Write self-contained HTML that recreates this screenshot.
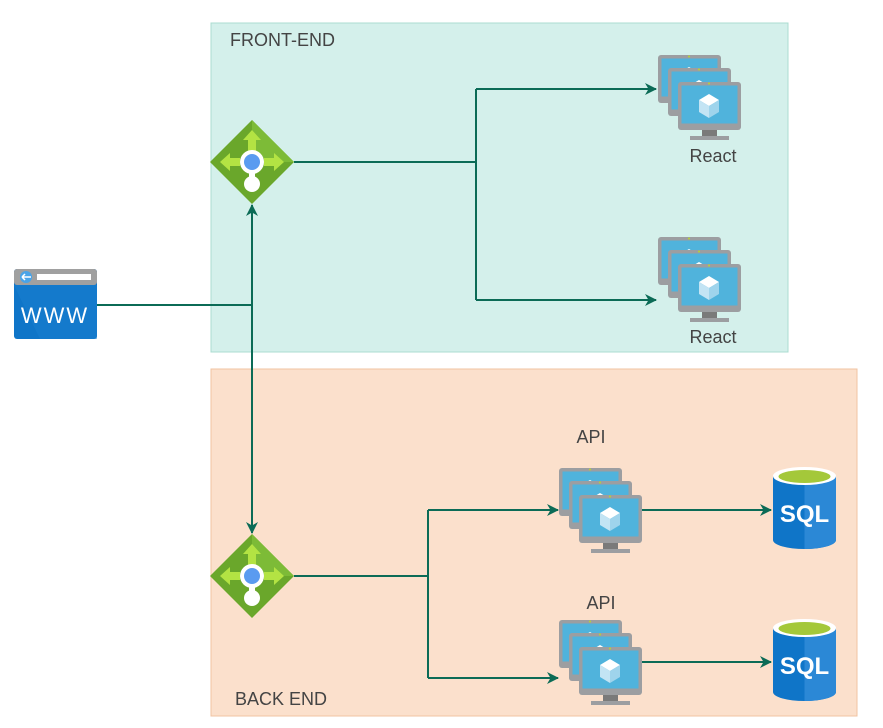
<!DOCTYPE html>
<html><head><style>body{margin:0;background:#fff}svg{display:block}text{font-family:"Liberation Sans",sans-serif;fill:#444}</style></head><body>
<svg width="883" height="728" viewBox="0 0 883 728" xmlns="http://www.w3.org/2000/svg">
<defs>
<symbol id="mon" overflow="visible">
<rect x="0" y="0" width="63" height="48" rx="3" fill="#9c9ea1"/>
<rect x="3.5" y="3.5" width="56" height="38" fill="#50b3dc"/>
<circle cx="31" cy="1.5" r="1" fill="#b8d432"/>
<path d="M31 12 L41 18 L31 24 L21 18Z" fill="#fff"/>
<path d="M21 18 L31 24 L31 36 L21 30Z" fill="#c3e4f4"/>
<path d="M41 18 L31 24 L31 36 L41 30Z" fill="#9fd4ec"/>
<rect x="24" y="48" width="15" height="6" fill="#7a7a7a"/>
<rect x="12" y="54" width="39" height="4" fill="#9c9ea1"/>
</symbol>
<symbol id="vms" overflow="visible">
<use href="#mon" x="0" y="0"/><use href="#mon" x="10" y="13"/><use href="#mon" x="20" y="27"/>
</symbol>
<symbol id="lb" overflow="visible">
<path d="M0 -42 L42 0 L0 42 L-42 0Z" fill="#6aa72b"/>
<path d="M0 -42 L42 0 L0 0Z" fill="#7dbb37"/>
<path d="M0 -32 L9 -22 L4 -22 L4 -10 L-4 -10 L-4 -22 L-9 -22Z" fill="#b3e343"/>
<path d="M-32 0 L-22 -9 L-22 -4 L-12 -4 L-12 4 L-22 4 L-22 9Z" fill="#b3e343"/>
<path d="M32 0 L22 -9 L22 -4 L12 -4 L12 4 L22 4 L22 9Z" fill="#b3e343"/>
<rect x="-3" y="0" width="6" height="20" fill="#fff"/>
<circle cx="0" cy="22" r="8" fill="#fff"/>
<circle cx="0" cy="0" r="12" fill="#fff"/>
<circle cx="0" cy="0" r="8" fill="#5a9bf0"/>
</symbol>
<symbol id="sql" overflow="visible">
<path d="M0 8 L0 72 A31.5 9 0 0 0 63 72 L63 8Z" fill="#0f75c8"/>
<path d="M31.5 17 L31.5 81 A31.5 9 0 0 0 63 72 L63 8Z" fill="#2b88d6"/>
<ellipse cx="31.5" cy="8" rx="31.5" ry="9" fill="#fff"/>
<ellipse cx="31.5" cy="8.5" rx="26" ry="6.5" fill="#a4c83a"/>
<text x="31.5" y="54" text-anchor="middle" font-size="24" font-weight="bold" style="fill:#fff">SQL</text>
</symbol>
<marker id="ar" markerWidth="12" markerHeight="12" refX="11" refY="6" orient="auto" markerUnits="userSpaceOnUse"><path d="M0 0 L12 6 L0 12 L3.5 6Z" fill="#0b6b56"/></marker>
</defs>
<rect x="211" y="23" width="577" height="329" fill="#d4f0eb" stroke="#abdcd0"/>
<rect x="211" y="369" width="646" height="347" fill="#fbe0cc" stroke="#f0c3a2"/>
<text x="230" y="46" font-size="18">FRONT-END</text>
<text x="235" y="705" font-size="18">BACK END</text>
<text x="713" y="162" font-size="18" text-anchor="middle">React</text>
<text x="713" y="343" font-size="18" text-anchor="middle">React</text>
<text x="591" y="443" font-size="18" text-anchor="middle">API</text>
<text x="601" y="609" font-size="18" text-anchor="middle">API</text>
<g stroke="#0b6b56" stroke-width="2" fill="none">
<path d="M97 305 H252"/>
<path d="M252 254 V205" marker-end="url(#ar)"/>
<path d="M252 254 V533" marker-end="url(#ar)"/>
<path d="M294 162 H476"/>
<path d="M476 89 V300"/>
<path d="M476 89 H656" marker-end="url(#ar)"/>
<path d="M476 300 H656" marker-end="url(#ar)"/>
<path d="M294 576 H428"/>
<path d="M428 510 V678"/>
<path d="M428 510 H558" marker-end="url(#ar)"/>
<path d="M428 678 H558" marker-end="url(#ar)"/>
<path d="M641 510 H771" marker-end="url(#ar)"/>
<path d="M641 662 H771" marker-end="url(#ar)"/>
</g>
<use href="#lb" x="252" y="162"/>
<use href="#lb" x="252" y="576"/>
<use href="#vms" x="658" y="55"/>
<use href="#vms" x="658" y="237"/>
<use href="#vms" x="559" y="468"/>
<use href="#vms" x="559" y="620"/>
<use href="#sql" x="773" y="468"/>
<use href="#sql" x="773" y="620"/>
<g>
<rect x="14" y="269" width="83" height="70" rx="3" fill="#0f75c8"/>
<path d="M14 285 H97 V339 H40Z" fill="#1a7fd0" opacity="0.5"/>
<rect x="14" y="269" width="83" height="16" rx="3" fill="#a0a0a0"/>
<rect x="37" y="274" width="54" height="6" fill="#fff"/>
<circle cx="26" cy="277" r="6" fill="#4aa4e8"/>
<path d="M22 277 H31 M22 277 L25 274 M22 277 L25 280" stroke="#fff" stroke-width="1.5"/>
<text x="55" y="323" font-size="22" text-anchor="middle" style="fill:#fff" letter-spacing="2">WWW</text>
</g>
</svg>
</body></html>
